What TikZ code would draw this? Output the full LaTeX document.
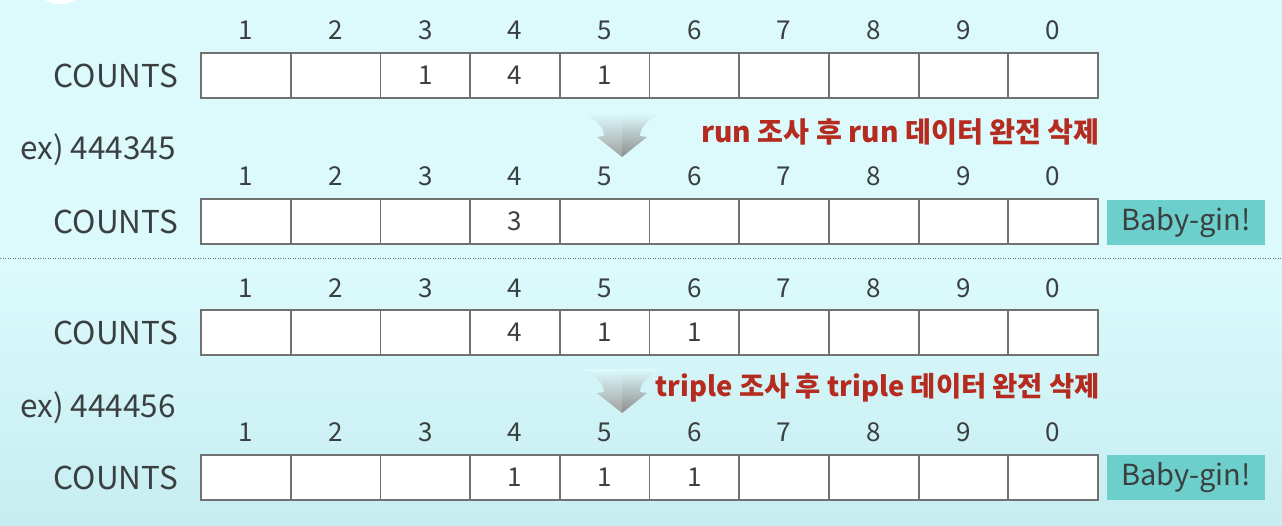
\documentclass[tikz,border=0pt]{standalone}
\usepackage{fontspec}
\setmainfont{Noto Sans CJK KR}
\usetikzlibrary{shapes}

\definecolor{bgtop}{HTML}{DCFAFC}
\definecolor{bgbot}{HTML}{C6EDF1}
\definecolor{boxline}{HTML}{717171}
\definecolor{txt}{HTML}{3A3F3F}
\definecolor{note}{HTML}{B52B20}
\definecolor{gin}{HTML}{6DCFCB}

\begin{document}
\begin{tikzpicture}[x=1pt, y=-1pt]
    \tikzstyle{cell} = [draw=boxline, fill=white, line width=1.8pt, minimum width=89.7pt, minimum height=45pt, inner sep=0pt, text=txt, font=\fontsize{26}{26}\selectfont]
    \tikzstyle{head} = [text=txt, inner sep=0pt, font=\fontsize{26}{26}\selectfont]
    \tikzstyle{lbl} = [text=txt, inner sep=0pt, font=\fontsize{31.5}{31.5}\selectfont]
    \tikzstyle{gin} = [fill=gin, text=txt, minimum width=158pt, minimum height=45pt, inner sep=0pt, font=\fontsize{29}{29}\selectfont]
    \tikzstyle{note} = [text=note, inner sep=0pt, font=\fontsize{28.2}{28.2}\selectfont\bfseries]
    \useasboundingbox (0, 0) rectangle (1282, 526);
    % background
    \shade[top color=bgtop, bottom color=bgbot, middle color=bgtop] (0, 0) rectangle (1282, 526);
    \fill[white] (60, -28) circle (32);
    \draw[boxline, line width=1pt, dash pattern=on 1pt off 1.5pt] (0, 259) -- (1282, 259);
    % the four count rows
    \foreach \r/\y/\hy in {a/75.5/30, b/221.5/176, c/332.5/288, d/477.5/432}
    {
      \node[lbl, anchor=east] (cnt\r) at (178, \y) {COUNTS};
      \foreach \i/\d in {1/1, 2/2, 3/3, 4/4, 5/5, 6/6, 7/7, 8/8, 9/9, 10/0}
      {
        \node[cell] (\r\i) at (201 + \i * 89.7 - 44.85, \y) {};
        \node[head] (h\r\i) at (201 + \i * 89.7 - 44.85, \hy) {\d};
      }
    }
    \foreach \c/\v in {a3/1, a4/4, a5/1, b4/3, c4/4, c5/1, c6/1, d4/1, d5/1, d6/1}
      \node[text=txt, font=\fontsize{26}{26}\selectfont] (v\c) at (\c) {\v};
    % examples
    \node[lbl, anchor=west] (ex1) at (20, 150) {ex) 444345};
    \node[lbl, anchor=west] (ex2) at (20, 408) {ex) 444456};
    \node[note, anchor=east] (n1) at (1100, 132) {run 조사 후 run 데이터 완전 삭제};
    \node[note, anchor=east, font=\fontsize{27.4}{27.4}\selectfont\bfseries] (n2) at (1100, 388) {triple 조사 후 triple 데이터 완전 삭제};
    \node[gin] (g1) at (1186, 222.5) {Baby-gin!};
    \node[gin] (g2) at (1186, 477.5) {Baby-gin!};
    % down arrows
    \foreach \ay in {0, 256}
    {
      \shade[top color=bgtop, bottom color=gray!75] (583, 113 + \ay) .. controls (597, 120 + \ay) and (604, 128 + \ay) .. (604, 136 + \ay) -- (597, 137 + \ay) -- (622, 157 + \ay) -- (622, 113 + \ay) -- cycle;
      \shade[top color=bgtop, bottom color=gray!110!black] (661, 113 + \ay) .. controls (647, 120 + \ay) and (640, 128 + \ay) .. (640, 136 + \ay) -- (647, 137 + \ay) -- (622, 157 + \ay) -- (622, 113 + \ay) -- cycle;
    }
\end{tikzpicture}
\end{document}
